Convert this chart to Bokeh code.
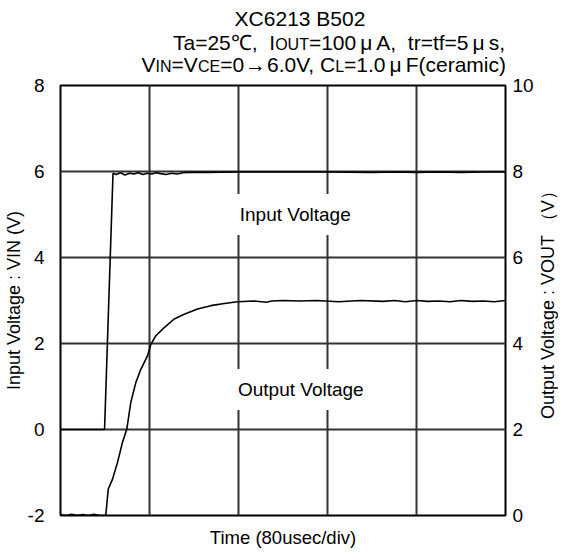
import math
from bokeh.plotting import figure
from bokeh.models import Range1d, LinearAxis, FixedTicker, Label, Div
from bokeh.layouts import column, row
from bokeh.core.properties import value
from bokeh.embed import file_html
from bokeh.resources import INLINE

FONT = "Liberation Sans"

# ---------------- data ----------------
x_grid = [80, 160, 240, 320]            # time divisions (usec), 80 usec/div
vin_ticks = [-2, 0, 2, 4, 6, 8]          # left axis (V)
vout_ticks = [0, 2, 4, 6, 8, 10]         # right axis (V)

t_in = [0, 39.6, 47.2, 50, 54, 58, 62, 66, 70, 74, 78, 82, 86, 90, 95, 100, 105, 110, 115,
        130, 160, 200, 240, 280, 300, 320, 340, 360, 380, 400]
v_in = [0, 0, 5.96, 5.93, 5.97, 5.92, 5.96, 5.94, 5.97, 5.93, 5.96, 5.94, 5.97, 5.95, 5.93,
        5.96, 5.94, 5.97, 5.98, 5.98, 5.99, 5.99, 5.99, 5.98, 5.99, 5.98, 5.99, 5.98, 5.99, 5.99]

t_out = [0, 5, 10, 15, 20, 25, 30, 35, 40.7, 42.9, 46.7, 51.2, 55.7, 59.6, 63.2, 67.7, 72.2,
         78.2, 81.2, 85.7, 93.2, 102.2, 111.2, 123.2, 135.1, 147.2, 159.1, 174.1, 185, 190,
         200, 215, 230, 250, 270, 290, 300, 310, 320, 330, 340, 350, 360, 370, 380, 390, 400]
v_out = [0.02, 0.0, 0.03, 0.0, 0.02, 0.0, 0.03, 0.0, 0.0, 0.61, 0.84, 1.23, 1.70, 2.01, 2.63,
         3.09, 3.40, 3.71, 3.98, 4.18, 4.37, 4.57, 4.68, 4.80, 4.88, 4.93, 4.97, 4.99, 4.96,
         4.99, 5.0, 4.99, 5.0, 4.97, 5.0, 4.98, 5.0, 4.97, 5.0, 4.98, 4.99, 4.97, 5.0, 4.98,
         4.99, 4.97, 5.0]

title1 = "XC6213 B502"
sub = '<span style="font-size:16px">%s</span>'
mu = '<span style="margin:0 4px">\u03bc</span>'
title2 = "Ta=25\u2103,  I" + sub % "OUT" + "=100" + mu + "A,  tr=tf=5" + mu + "s,"
title3 = ("V" + sub % "IN" + "=V" + sub % "CE" + '=0<span style="margin:0 1px">\u2192</span>6.0V, C'
          + sub % "L" + "=1.0" + mu + "F(ceramic)")
right_label = "Output Voltage : VOUT \uff08V\uff09"

# ---------------- title block (HTML) ----------------
W, TH = 552, 72
line_css = ("position:absolute; white-space:pre; line-height:21px; font-size:21px; "
            "color:black; font-family:'%s';" % FONT)
html = (
    '<div style="position:relative; width:%dpx; height:%dpx; overflow:visible;">' % (W, TH)
    + '<div style="%s left:200px; width:200px; top:8px; text-align:center;">%s</div>' % (line_css, title1)
    + '<div style="%s right:47px; top:32px; text-align:right;">%s</div>' % (line_css, title2)
    + '<div style="%s right:46px; top:54px; text-align:right;">%s</div>' % (line_css, title3)
    + '</div>'
)
head = Div(text=html, width=W, height=TH, margin=0, styles={"overflow": "visible"})

# ---------------- main figure ----------------
TOPB, BOTB = 13, 34
p = figure(frame_width=445, frame_height=430, x_range=Range1d(0, 400), y_range=Range1d(-2, 8),
           output_backend="svg", toolbar_location=None, margin=0,
           min_border_left=55, min_border_right=30, min_border_top=TOPB, min_border_bottom=BOTB)
p.extra_y_ranges = {"vout": Range1d(0, 10)}
p.border_fill_color = None

p.outline_line_color = "black"
p.outline_line_width = 2

p.xgrid.ticker = FixedTicker(ticks=x_grid)
p.ygrid.ticker = FixedTicker(ticks=[0, 2, 4, 6])
p.grid.grid_line_color = "#333333"
p.grid.grid_line_width = 2
p.grid.grid_line_alpha = 1

# bottom axis (no tick labels)
xa = p.xaxis[0]
xa.ticker = FixedTicker(ticks=x_grid)
xa.major_label_overrides = {t: "" for t in x_grid}
xa.major_label_text_font_size = "1px"
xa.major_label_standoff = 0
xa.axis_label = "Time (80usec/div)"
xa.axis_label_standoff = 11
xa.axis_label_text_font_size = "18.5px"

# left axis
ya = p.yaxis[0]
ya.ticker = FixedTicker(ticks=vin_ticks)
ya.major_label_overrides = {-2: "-2"}
ya.axis_label = "Input Voltage : VIN (V)"
ya.major_label_standoff = 16
ya.axis_label_standoff = 1

# right axis (tick labels only; its title is drawn in the side strip)
ra = LinearAxis(y_range_name="vout", ticker=FixedTicker(ticks=vout_ticks))
ra.major_label_standoff = 7
p.add_layout(ra, "right")

for ax in (xa, ya, ra):
    ax.major_tick_out = 0
    ax.major_tick_in = 0
    ax.minor_tick_out = 0
    ax.minor_tick_in = 0
    ax.axis_line_color = None
    ax.axis_label_text_font = FONT
    ax.axis_label_text_font_style = "normal"
    ax.axis_label_text_color = "black"
    ax.major_label_text_font = FONT
    ax.major_label_text_color = "black"
ya.axis_label_text_font_size = "18px"
ya.major_label_text_font_size = "19px"
ra.major_label_text_font_size = "19px"

p.line(t_in, v_in, line_color="black", line_width=1.6)
p.line(t_out, v_out, line_color="black", line_width=1.6, y_range_name="vout")

for txt, xx, yy in (("Input Voltage", 211, 5.0), ("Output Voltage", 216, 0.93)):
    p.add_layout(Label(x=xx, y=yy, text=txt, text_align="center", text_baseline="middle",
                       text_font=FONT, text_font_size="19px", text_color="black",
                       background_fill_color="white", padding=10))

# ---------------- right-hand axis title strip ----------------
side = figure(frame_width=22, frame_height=430, x_range=Range1d(0, 1), y_range=Range1d(0, 1),
              output_backend="svg", toolbar_location=None, margin=0, min_border_left=0,
              min_border_right=0, min_border_top=TOPB, min_border_bottom=BOTB)
side.axis.visible = False
side.grid.visible = False
side.outline_line_color = None
side.border_fill_color = None
side.text(x=[0.5], y=[0.5], text=[right_label], angle=math.pi / 2, text_align="center",
          text_baseline="middle", text_font=value(FONT), text_font_size=value("18px"),
          text_color="black")

layout = column(head, row(p, side, spacing=0), spacing=0, margin=(0, 0, -8, 0))
open("out.html", "w").write(file_html(layout, INLINE))
